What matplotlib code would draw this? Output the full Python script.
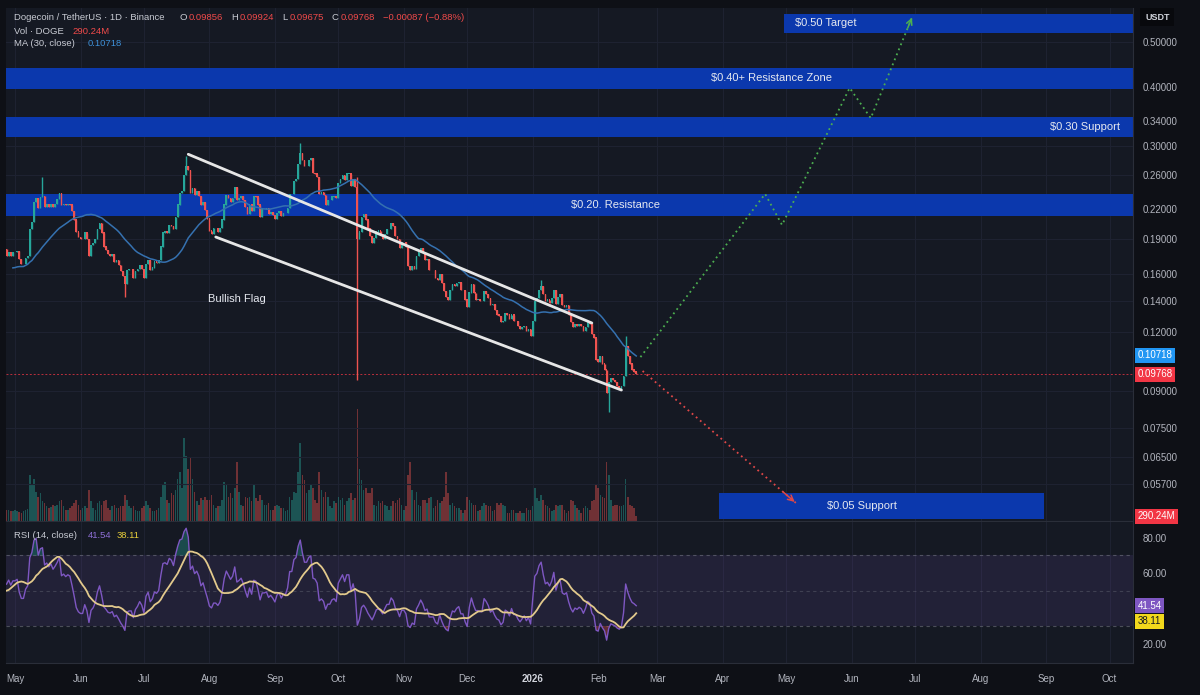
import numpy as np
import pandas as pd
import matplotlib
matplotlib.use("Agg")
import matplotlib.pyplot as plt
import matplotlib.dates as mdates
from matplotlib.ticker import FixedLocator, NullLocator, FuncFormatter

plt.rcParams['font.family'] = ['Liberation Sans', 'DejaVu Sans']

# ---------------- data (daily closes, DOGE/USDT) ----------------
apr_close = [0.171, 0.163, 0.164, 0.168, 0.166, 0.147, 0.146, 0.145, 0.166, 0.157,
             0.159, 0.164, 0.159, 0.158, 0.154, 0.155, 0.156, 0.157, 0.158, 0.157,
             0.165, 0.179, 0.181, 0.180, 0.182, 0.181, 0.175, 0.178, 0.175, 0.178]
may_close = [0.178, 0.179, 0.172, 0.168, 0.168, 0.173, 0.175, 0.199, 0.206, 0.228,
             0.232, 0.221, 0.233, 0.235, 0.222, 0.225, 0.222, 0.226, 0.222, 0.226,
             0.231, 0.238, 0.224, 0.226, 0.224, 0.226, 0.225, 0.218, 0.209, 0.197, 0.192]
jun_close = [0.190, 0.190, 0.196, 0.190, 0.175, 0.184, 0.186, 0.190, 0.199, 0.205,
             0.196, 0.183, 0.180, 0.176, 0.175, 0.176, 0.170, 0.171, 0.167, 0.162,
             0.158, 0.152, 0.163, 0.164, 0.164, 0.157, 0.162, 0.164, 0.167, 0.164]
jul_close = [0.157, 0.168, 0.171, 0.163, 0.165, 0.170, 0.169, 0.171, 0.183, 0.196,
             0.197, 0.196, 0.203, 0.202, 0.199, 0.212, 0.225, 0.238, 0.240, 0.260,
             0.272, 0.266, 0.238, 0.244, 0.236, 0.240, 0.235, 0.224, 0.228, 0.219, 0.210]
aug_close = [0.198, 0.195, 0.200, 0.200, 0.197, 0.200, 0.209, 0.225, 0.236, 0.232,
             0.228, 0.232, 0.245, 0.230, 0.232, 0.235, 0.230, 0.222, 0.215, 0.225,
             0.218, 0.235, 0.234, 0.225, 0.212, 0.220, 0.220, 0.221, 0.215, 0.217, 0.214]
sep_close = [0.210, 0.216, 0.218, 0.213, 0.216, 0.216, 0.221, 0.237, 0.237, 0.252,
             0.255, 0.275, 0.290, 0.280, 0.272, 0.272, 0.280, 0.283, 0.263, 0.262,
             0.258, 0.237, 0.239, 0.236, 0.225, 0.230, 0.230, 0.234, 0.235, 0.232]
oct_close = [0.250, 0.255, 0.260, 0.254, 0.262, 0.262, 0.247, 0.255, 0.245, 0.190,
             0.197, 0.212, 0.215, 0.209, 0.200, 0.193, 0.186, 0.191, 0.197, 0.198,
             0.195, 0.190, 0.195, 0.199, 0.199, 0.205, 0.202, 0.193, 0.190, 0.182, 0.187]
nov_close = [0.187, 0.183, 0.166, 0.163, 0.166, 0.164, 0.175, 0.178, 0.182, 0.178,
             0.171, 0.172, 0.163, 0.163, 0.163, 0.157, 0.155, 0.160, 0.153, 0.147,
             0.143, 0.141, 0.148, 0.152, 0.151, 0.153, 0.154, 0.148, 0.148, 0.141]
dec_close = [0.136, 0.146, 0.152, 0.146, 0.141, 0.141, 0.140, 0.140, 0.147, 0.145,
             0.142, 0.137, 0.138, 0.134, 0.131, 0.130, 0.126, 0.127, 0.132, 0.131,
             0.128, 0.131, 0.127, 0.127, 0.124, 0.122, 0.123, 0.124, 0.121, 0.122, 0.118]
jan_close = [0.127, 0.140, 0.142, 0.148, 0.151, 0.145, 0.140, 0.141, 0.139, 0.142,
             0.148, 0.138, 0.143, 0.145, 0.137, 0.136, 0.137, 0.131, 0.126, 0.123,
             0.125, 0.124, 0.125, 0.124, 0.121, 0.123, 0.126, 0.125, 0.119, 0.117, 0.105]
feb_close = [0.104, 0.107, 0.103, 0.100, 0.089, 0.094, 0.096, 0.095, 0.094, 0.092,
             0.091, 0.092, 0.097, 0.112, 0.107, 0.103, 0.100, 0.099, 0.09768]

# daily volume (millions DOGE), from 2025-04-27
vol_apr = [700, 650, 600, 620]
vol_may = [650, 600, 550, 500, 600, 700, 750, 2800, 2200, 2600, 1800, 1500, 1700, 1200, 1100,
           900, 800, 850, 1000, 900, 1000, 1200, 1300, 900, 700, 700, 800, 900, 1100, 1300, 1000]
vol_jun = [700, 800, 900, 800, 1900, 1200, 800, 700, 1100, 1200, 1000, 1200, 1300, 800, 700,
           900, 1000, 800, 800, 900, 900, 1600, 1300, 900, 800, 900, 700, 600, 600, 800]
vol_jul = [900, 1200, 1000, 800, 600, 600, 700, 800, 1500, 2200, 2400, 1300, 1100, 1700, 1600,
           1900, 2600, 3000, 2000, 5100, 4000, 3200, 3900, 2600, 1800, 1200, 1000, 1400, 1300, 1500, 1300]
vol_aug = [1300, 1600, 1000, 800, 900, 900, 1300, 2400, 2200, 1500, 1700, 1400, 2000, 3600, 1800,
           1000, 900, 1500, 1400, 1500, 1200, 2300, 1400, 1200, 1600, 1300, 1000, 1000, 1100, 700, 700]
vol_sep = [900, 1000, 900, 800, 800, 600, 700, 1500, 1300, 1800, 1700, 3000, 4800, 2800, 2500,
           1700, 1900, 2200, 2000, 1300, 1100, 3000, 1900, 1500, 1800, 1500, 900, 800, 1200, 1100]
vol_oct = [1500, 1300, 1400, 1000, 1200, 1400, 1700, 1300, 1400, 6900, 3200, 2500, 1900, 2000, 1700,
           1700, 2000, 1000, 900, 1200, 1100, 1200, 1000, 900, 700, 900, 1200, 1100, 1300, 1400, 1000]
vol_nov = [700, 900, 2800, 3600, 1900, 1300, 1800, 1000, 900, 1300, 1300, 1100, 1400, 1500, 800,
           900, 1300, 1100, 1200, 1500, 3000, 1700, 1000, 1100, 900, 800, 800, 700, 500, 700]
vol_dec = [1500, 1300, 1100, 1000, 1000, 600, 700, 900, 1100, 1000, 900, 900, 600, 700, 1100,
           1000, 1100, 1000, 900, 500, 500, 700, 700, 500, 500, 600, 500, 500, 800, 700, 700]
vol_jan = [900, 2000, 1400, 1200, 1600, 1300, 1000, 900, 800, 600, 700, 1000, 900, 1000, 1000,
           700, 500, 600, 1300, 1200, 1000, 800, 700, 500, 800, 900, 800, 700, 1200, 1300, 2300]
vol_feb = [2000, 1600, 1500, 1400, 3600, 2800, 1300, 900, 1000, 1000, 900, 900, 1000, 2600, 1500,
           1000, 900, 800, 290.24]

wick_high_dates = ['2025-05-14', '2025-07-21', '2025-09-13', '2025-10-10', '2026-01-05', '2026-02-14']
wick_high_vals = [0.258, 0.285, 0.305, 0.258, 0.155, 0.118]
wick_low_dates = ['2025-06-22', '2025-10-10', '2026-02-06']
wick_low_vals = [0.143, 0.095, 0.081]

price_ticks = [0.057, 0.065, 0.075, 0.09, 0.12, 0.14, 0.16, 0.19, 0.22, 0.26, 0.30, 0.34, 0.40, 0.50]
rsi_ticks = [20, 60, 80]

band_labels = ['$0.50 Target', '$0.40+ Resistance Zone', '$0.30 Support', '$0.20. Resistance', '$0.05 Support']
band_lo = [0.523, 0.397, 0.3135, 0.2127, 0.0480]
band_hi = [0.574, 0.440, 0.346, 0.237, 0.0545]
band_start = ['2026-04-30', '2025-04-26', '2025-04-26', '2025-04-26', '2026-03-30']
band_end = ['2026-10-14', '2026-10-14', '2026-10-14', '2026-10-14', '2026-08-31']
band_text_date = ['2026-05-05', '2026-04-24', '2026-10-06', '2026-02-09', '2026-06-06']
band_text_ha = ['left', 'center', 'right', 'center', 'center']

flag_upper_dates = ['2025-07-22', '2026-01-29']
flag_upper_prices = [0.288, 0.1257]
flag_lower_dates = ['2025-08-04', '2026-02-12']
flag_lower_prices = [0.1918, 0.0904]

bull_dates = ['2026-02-21', '2026-04-21', '2026-04-29', '2026-05-31', '2026-06-10', '2026-06-30']
bull_prices = [0.1063, 0.237, 0.2035, 0.399, 0.344, 0.571]
bear_dates = ['2026-02-22', '2026-05-06']
bear_prices = [0.0993, 0.0517]

last_close = 0.09768
ma_last = 0.10718
rsi_last = 41.54
rsi_ma_last = 38.11

# ---------------- derived series ----------------
closes = apr_close + may_close + jun_close + jul_close + aug_close + sep_close + \
         oct_close + nov_close + dec_close + jan_close + feb_close
dates = pd.date_range('2025-04-01', periods=len(closes), freq='D')
cs = pd.Series(closes, index=dates)
ma30 = cs.rolling(30).mean()

# Wilder RSI(14), seeded with simple averages
carr = np.asarray(closes)
dlt = np.diff(carr)
gains = np.clip(dlt, 0, None)
losses = np.clip(-dlt, 0, None)
rsi_arr = np.full(len(carr), np.nan)
ag = gains[:14].mean()
al = losses[:14].mean()
rsi_arr[14] = 100 - 100 / (1 + ag / al)
for i in range(14, len(dlt)):
    ag = (ag * 13 + gains[i]) / 14
    al = (al * 13 + losses[i]) / 14
    rsi_arr[i + 1] = 100 - 100 / (1 + ag / al)
rsi = pd.Series(rsi_arr, index=dates)
rsi_ma = rsi.rolling(14, min_periods=8).mean()

opens = cs.shift(1)
highs = pd.concat([opens, cs], axis=1).max(axis=1)
lows = pd.concat([opens, cs], axis=1).min(axis=1)
for d, v in zip(wick_high_dates, wick_high_vals):
    highs[pd.Timestamp(d)] = v
for d, v in zip(wick_low_dates, wick_low_vals):
    lows[pd.Timestamp(d)] = v

vis = dates >= pd.Timestamp('2025-04-27')
volume = vol_apr + vol_may + vol_jun + vol_jul + vol_aug + vol_sep + vol_oct + vol_nov + vol_dec + vol_jan + vol_feb
vdates = pd.date_range('2025-04-27', periods=len(volume), freq='D')

# ---------------- styling ----------------
BG = '#151923'
GRID = '#1e2231'
TXT = '#b2b5be'
UP = '#26a69a'
DN = '#ef5350'
BAND = '#0b38ad'

W, H = 1200, 695
fig = plt.figure(figsize=(12, 6.95), dpi=100)
fig.patch.set_facecolor('#0e1016')

L, R = 6, 1133
P_TOP, P_BOT = 8, 521
R_TOP, R_BOT = 522, 663
rect_p = [L / W, 1 - P_BOT / H, (R - L) / W, (P_BOT - P_TOP) / H]
rect_r = [L / W, 1 - R_BOT / H, (R - L) / W, (R_BOT - R_TOP) / H]

vax = fig.add_axes(rect_p)
vax.set_facecolor(BG)
ax = fig.add_axes(rect_p, sharex=vax)
ax.set_facecolor('none')
rax = fig.add_axes(rect_r, sharex=vax)
rax.set_facecolor(BG)

x0 = mdates.date2num(pd.Timestamp('2025-05-01')) - 4.26
x1 = mdates.date2num(pd.Timestamp('2025-05-01')) + 529.1
vax.set_xlim(x0, x1)

# month grid
months = pd.date_range('2025-05-01', '2026-10-01', freq='MS')
mnum = mdates.date2num(months)
for a in (vax, rax):
    for m in mnum:
        a.axvline(m, color=GRID, lw=0.8, zorder=0)

# volume
vcol = [UP if c >= o else DN for o, c in zip(opens[vis], cs[vis])]
vax.bar(mdates.date2num(vdates), volume, width=0.75, color=vcol, alpha=0.42, zorder=1, linewidth=0)
vax.set_ylim(0, 6900 * 512 / 112)
vax.set_yticks([])
vax.tick_params(axis='x', labelbottom=False, length=0)
for s in vax.spines.values():
    s.set_visible(False)

# price axis
ax.set_yscale('log')
ax.set_ylim(0.0475, 0.591)
ax.yaxis.set_major_locator(FixedLocator(price_ticks))
ax.yaxis.set_minor_locator(NullLocator())
ax.yaxis.set_major_formatter(FuncFormatter(lambda v, p: f'{v:.5f}'))
ax.yaxis.set_minor_formatter(FuncFormatter(lambda v, p: ''))
ax.yaxis.tick_right()
ax.tick_params(axis='y', length=0, pad=7, labelsize=7, labelcolor=TXT)
ax.tick_params(axis='x', labelbottom=False, length=0)
for t in price_ticks:
    ax.axhline(t, color=GRID, lw=0.8, zorder=0)
for k, s in ax.spines.items():
    s.set_visible(False)
ax.spines['right'].set_visible(True)
ax.spines['right'].set_color('#2a2e39')
ax.spines['bottom'].set_visible(True)
ax.spines['bottom'].set_color('#2a2e39')

# bands
for lab, lo, hi, s0, s1, td, ha in zip(band_labels, band_lo, band_hi, band_start, band_end,
                                       band_text_date, band_text_ha):
    xs = mdates.date2num([pd.Timestamp(s0), pd.Timestamp(s1)])
    ax.fill_between(xs, lo, hi, color=BAND, lw=0, zorder=2)
    ax.text(mdates.date2num(pd.Timestamp(td)), np.sqrt(lo * hi), lab, ha=ha, va='center',
            fontsize=8, color='#e6e9f0', zorder=6)

# candles
xd = mdates.date2num(dates[vis])
o = opens[vis].values
c = cs[vis].values
hi_ = highs[vis].values
lo_ = lows[vis].values
col = np.where(c >= o, UP, DN)
ax.vlines(xd, lo_, hi_, colors=col, lw=1.0, zorder=4)
ax.bar(xd, np.abs(c - o) + 1e-4, bottom=np.minimum(o, c), width=0.8, color=col, lw=0, zorder=4)

# MA
ax.plot(xd, ma30[vis].values, color='#3571b0', lw=1.1, zorder=5)

# current price line
ax.axhline(last_close, color='#f23645', lw=0.7, ls=(0, (2, 2)), alpha=0.75, zorder=3)

# flag channel
ax.plot(mdates.date2num(pd.to_datetime(flag_upper_dates)), flag_upper_prices, color='#e6e6e6', lw=2, zorder=6,
        solid_capstyle='round')
ax.plot(mdates.date2num(pd.to_datetime(flag_lower_dates)), flag_lower_prices, color='#e6e6e6', lw=2, zorder=6,
        solid_capstyle='round')
ax.text(mdates.date2num(pd.Timestamp('2025-08-14')), 0.1414, 'Bullish Flag', ha='center', va='center',
        fontsize=8, color='#e6e9f0', zorder=6)

# projections
bx = mdates.date2num(pd.to_datetime(bull_dates))
ax.plot(bx, bull_prices, color='#4caf50', lw=1.3, ls=(0, (1, 2)), zorder=6)
ax.annotate('', xy=(bx[-1], bull_prices[-1]), xytext=(bx[-2] + (bx[-1] - bx[-2]) * 0.85,
            bull_prices[-2] * (bull_prices[-1] / bull_prices[-2]) ** 0.85),
            arrowprops=dict(arrowstyle='->', color='#4caf50', lw=1.1, mutation_scale=10), zorder=6)
rx = mdates.date2num(pd.to_datetime(bear_dates))
ax.plot(rx, bear_prices, color='#e04848', lw=1.3, ls=(0, (1, 2)), zorder=6)
ax.annotate('', xy=(rx[-1], bear_prices[-1]), xytext=(rx[0] + (rx[1] - rx[0]) * 0.9,
            bear_prices[0] * (bear_prices[1] / bear_prices[0]) ** 0.9),
            arrowprops=dict(arrowstyle='->', color='#e04848', lw=1.1, mutation_scale=10), zorder=6)


def tag(axis, yval, text, fc, tc='white', tr=None):
    tr = tr if tr is not None else axis.get_yaxis_transform()
    axis.text(1.004, yval, text, transform=tr, ha='left', va='center', fontsize=7, color=tc,
              bbox=dict(boxstyle='square,pad=0.28', fc=fc, ec='none'), clip_on=False, zorder=20)


tag(ax, ma_last, f'{ma_last:.5f}', '#2196f3')
tag(ax, last_close, f'{last_close:.5f}', '#f23645')
vax.text(1.004, 290.24, '290.24M', transform=vax.get_yaxis_transform(), ha='left', va='center',
         fontsize=7, color='white', bbox=dict(boxstyle='square,pad=0.28', fc='#f23645', ec='none'),
         clip_on=False, zorder=30)

# RSI pane
rax.fill_between(mdates.date2num([months[0] - pd.Timedelta(days=10), months[-1] + pd.Timedelta(days=20)]),
                 30, 70, color='#7e57c2', alpha=0.13, lw=0, zorder=1)
for lvl, a_ in ((70, 0.55), (50, 0.35), (30, 0.55)):
    rax.axhline(lvl, color='#787b86', lw=0.8, ls=(0, (3, 3)), alpha=a_, zorder=2)
rsv = rsi[vis].values
rax.fill_between(xd, 70, rsv, where=rsv > 70, color=UP, alpha=0.35, lw=0, zorder=2, interpolate=True)
rax.fill_between(xd, 30, rsv, where=rsv < 30, color=DN, alpha=0.35, lw=0, zorder=2, interpolate=True)
rax.plot(xd, rsv, color='#7e57c2', lw=1.0, zorder=3)
rax.plot(xd, rsi_ma[vis].values, color='#e2c98c', lw=1.3, zorder=4)
rax.set_ylim(9, 89)
rax.yaxis.tick_right()
rax.set_yticks(rsi_ticks)
rax.yaxis.set_major_formatter(FuncFormatter(lambda v, p: f'{v:.2f}'))
rax.tick_params(axis='y', length=0, pad=7, labelsize=7, labelcolor=TXT)
for s in rax.spines.values():
    s.set_visible(False)
rax.spines['right'].set_visible(True)
rax.spines['right'].set_color('#2a2e39')
rax.spines['bottom'].set_visible(True)
rax.spines['bottom'].set_color('#2a2e39')
tag(rax, rsi_last, f'{rsi_last:.2f}', '#7e57c2')
tag(rax, rsi_ma_last - 5.5, f'{rsi_ma_last:.2f}', '#f2d81c', tc='#131722')

# x labels
rax.xaxis.set_major_locator(FixedLocator(mnum))
mlabels = ['2026' if m.month == 1 else m.strftime('%b') for m in months]
rax.set_xticklabels(mlabels)
rax.tick_params(axis='x', length=0, pad=8, labelsize=7, labelcolor=TXT)
for lbl, m in zip(rax.get_xticklabels(), months):
    if m.month == 1:
        lbl.set_fontweight('bold')
        lbl.set_color('#d1d4dc')

# header texts
fig.canvas.draw()
renderer = fig.canvas.get_renderer()


def seg_text(x, y, s, colr, size=6.8):
    fig.text(x / W, 1 - y / H, s, color=colr, fontsize=size, va='center', ha='left', zorder=30)


HEAD = '#c8cbd3'
RED = '#f04a4a'
seg_text(14, 17, 'Dogecoin / TetherUS · 1D · Binance', HEAD)
seg_text(180, 17, 'O', HEAD)
seg_text(189, 17, '0.09856', RED)
seg_text(231, 17, 'H', HEAD)
seg_text(240, 17, '0.09924', RED)
seg_text(282, 17, 'L', HEAD)
seg_text(290, 17, '0.09675', RED)
seg_text(332, 17, 'C', HEAD)
seg_text(341, 17, '0.09768', RED)
seg_text(383, 17, '\u22120.00087 (\u22120.88%)', RED)
seg_text(14, 31, 'Vol · DOGE', HEAD)
seg_text(72, 31, '290.24M', RED)
seg_text(14, 44, 'MA (30, close)', HEAD)
seg_text(88, 44, '0.10718', '#3d8fd6')
seg_text(14, 536, 'RSI (14, close)', HEAD)
seg_text(88, 536, '41.54', '#8e6fd6')
seg_text(117, 536, '38.11', '#e8cf3a')

fig.text(1145 / W, 1 - 17 / H, 'USDT', color='#d1d4dc', fontsize=6.5, fontweight='bold', va='center', ha='left',
         bbox=dict(boxstyle='square,pad=0.5', fc='#08090d', ec='none'))

fig.savefig('out.png', dpi=100, facecolor=fig.get_facecolor())
